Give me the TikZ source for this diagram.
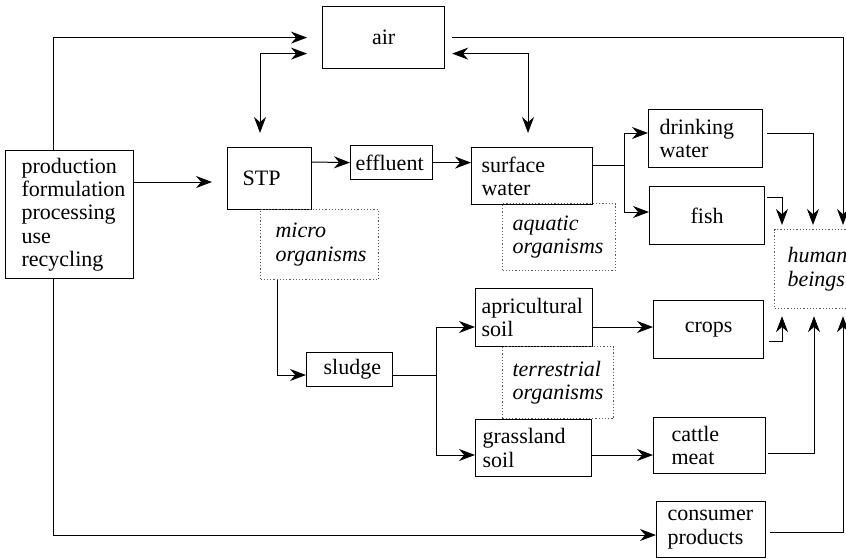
\documentclass[tikz,border=0pt]{standalone}
\usepackage{fontspec}
\setmainfont{Liberation Serif}
\usetikzlibrary{arrows.meta,calc}
\begin{document}
\begin{tikzpicture}[x=0.5pt,y=-0.5pt,
  font=\fontsize{11}{11.65}\selectfont,
  bx/.style={draw, line width=0.6pt, anchor=north west, align=left, inner ysep=0pt},
  dbx/.style={bx, draw=black!65, densely dotted, font=\fontsize{11}{11.65}\selectfont\itshape},
  ln/.style={line width=0.5pt},
  tip/.tip={Stealth[length=8pt,width=6pt,inset=2.6pt]},
  arr/.style={ln, -tip},
  darr/.style={ln, tip-tip},
]
\useasboundingbox (0,0) rectangle (846,558);

% boxes
\node[bx, text width=48pt, inner xsep=8pt, minimum height=64pt] (prod) at (5,150) {production\\formulation\\processing\\use\\recycling};
\node[bx, align=center, text width=51pt, inner xsep=5pt, minimum height=31pt] (air) at (322,6) {air};
\node[bx, text width=27pt, inner xsep=7.5pt, minimum height=31pt] (stp) at (227,147) {STP};
\node[bx, text width=36pt, inner xsep=2.5pt, minimum height=17pt] (eff) at (350,145) {effluent};
\node[bx, text width=50.5pt, inner xsep=5pt, minimum height=28.5pt] (sw) at (471,147) {surface\\water};
\node[dbx, text width=44pt, inner xsep=7.5pt, minimum height=35pt] (micro) at (260,209) {micro\\organisms};
\node[dbx, text width=46.5pt, inner xsep=5pt, minimum height=33.5pt] (aq) at (502,203) {aquatic\\organisms};
\node[bx, text width=52.5pt, inner xsep=3pt, minimum height=29pt] (ag) at (475,288) {apricultural\\soil};
\node[dbx, text width=45.5pt, inner xsep=5pt, minimum height=36pt] (ter) at (502,346) {terrestrial\\organisms};
\node[bx, text width=26pt, inner xsep=8.5pt, minimum height=17pt] (sl) at (306,352) {sludge};
\node[bx, text width=51pt, inner xsep=3.5pt, minimum height=28.5pt] (gs) at (475,419) {grassland\\soil};
\node[bx, text width=46pt, inner xsep=5.5pt, minimum height=29pt] (dw) at (648,109) {drinking\\water};
\node[bx, align=center, text width=52.5pt, inner xsep=2.5pt, minimum height=29pt] (fish) at (649,186) {fish};
\node[dbx, text width=37pt, inner xsep=6.5pt, minimum height=39.5pt] (hb) at (774,229) {human\\beings};
\node[bx, align=center, text width=50pt, inner xsep=2.5pt, minimum height=29pt] (crops) at (653,300) {crops};
\node[bx, text width=38pt, inner xsep=9pt, minimum height=28pt] (cat) at (653,417) {cattle\\meat};
\node[bx, text width=43.5pt, inner xsep=5.5pt, minimum height=28pt] (cp) at (656,501) {consumer\\products};

% connectors
\draw[arr, shorten >=7.5pt] ($(prod.north west)+(48,0)$) |- (air.west);
\draw[darr, shorten <=7.5pt, shorten >=7pt] ($(air.west)+(0,16)$) -| ($(stp.north west)+(33,0)$);
\draw[darr, shorten <=3.5pt, shorten >=7pt] ($(air.east)+(0,16)$) -| ($(sw.north west)+(57,0)$);
\draw[arr, shorten >=2pt] ($(air.east)+(7,0)$) -| ($(hb.north west)+(69,0)$);
\draw[arr, shorten >=7.5pt] ($(prod.north east)+(0,32)$) -- ($(stp.north west)+(0,35)$);
\draw[arr] ($(stp.north east)+(0,15)$) -- (eff.west);
\draw[arr] (eff.east) -- (eff.east -| sw.west);
\draw[arr] ($(sw.north east)+(0,18)$) -- ++(31,0) |- ($(dw.north west)+(0,24)$);
\draw[arr] ($(sw.north east)+(0,18)$) -- ++(31,0) |- ($(fish.north west)+(0,26)$);
\draw[arr, shorten >=2pt] ($(dw.north east)+(4,24)$) -| ($(hb.north west)+(39,0)$);
\draw[arr, shorten >=2pt] ($(fish.north east)+(2,11)$) -| ($(hb.north west)+(8,0)$);
\draw[arr] ($(micro.south west)+(17,0)$) |- ($(sl.north west)+(0,23)$);
\draw[arr] ($(sl.north east)+(0,23)$) -- ++(43,0) |- ($(ag.north west)+(0,39)$);
\draw[arr] ($(sl.north east)+(0,23)$) -- ++(43,0) |- ($(gs.north west)+(0,36)$);
\draw[arr] ($(ag.north east)+(0,39)$) -- ($(crops.north west)+(0,27)$);
\draw[arr, shorten >=3.5pt] ($(crops.north east)+(5,41)$) -| ($(hb.south west)+(8,0)$);
\draw[arr] ($(gs.north east)+(0,36)$) -- ($(cat.north west)+(0,38)$);
\draw[arr, shorten >=3.5pt] ($(cat.north east)+(2,36)$) -| ($(hb.south west)+(40,0)$);
\draw[arr] ($(prod.south west)+(48,0)$) |- ($(cp.north west)+(0,34)$);
\draw[arr, shorten >=3.5pt] ($(cp.north east)+(4,31)$) -| ($(hb.south west)+(69,0)$);
\end{tikzpicture}
\end{document}
